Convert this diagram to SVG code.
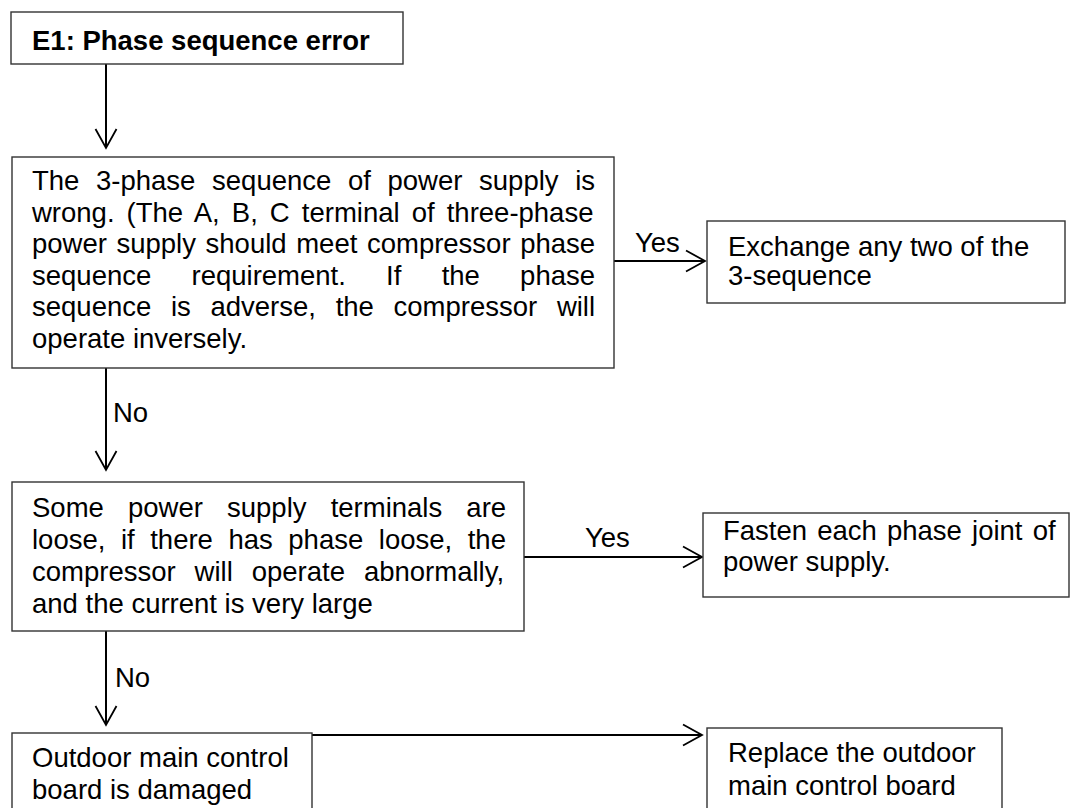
<svg xmlns="http://www.w3.org/2000/svg" width="1072" height="808" viewBox="0 0 1072 808">
<style>
.box{fill:#fff;stroke:#333;stroke-width:1.4}
.t{font-family:"Liberation Sans",Arial,sans-serif;font-size:27.5px;fill:#000}
.b{font-weight:bold}
.c{fill:none;stroke:#000;stroke-width:2}
</style>
<defs>
<marker id="arr" markerUnits="userSpaceOnUse" markerWidth="26" markerHeight="26" refX="20" refY="12" orient="auto" overflow="visible">
<path d="M1,1.5 L20,12 L1,22.5" fill="none" stroke="#000" stroke-width="1.8"/>
</marker>
</defs>
<rect width="1072" height="808" fill="#fff"/>
<g id="connectors">
<line class="c" x1="106" y1="64" x2="106" y2="148" marker-end="url(#arr)"/>
<line class="c" x1="614" y1="261" x2="705" y2="261" marker-end="url(#arr)"/>
<line class="c" x1="106" y1="368" x2="106" y2="470" marker-end="url(#arr)"/>
<line class="c" x1="524" y1="557" x2="702" y2="557" marker-end="url(#arr)"/>
<line class="c" x1="106" y1="631" x2="106" y2="725" marker-end="url(#arr)"/>
<line class="c" x1="312" y1="735" x2="702" y2="735" marker-end="url(#arr)"/>
<text class="t" x="635" y="252">Yes</text>
<text class="t" x="113" y="422">No</text>
<text class="t" x="585" y="547">Yes</text>
<text class="t" x="115" y="687">No</text>
</g>
<g id="n1">
<rect class="box" x="11" y="12" width="392" height="52"/>
<text class="t b" x="32" y="50">E1: Phase sequence error</text>
</g>
<g id="n2">
<rect class="box" x="12" y="157" width="602" height="211"/>
<text class="t" x="32" y="190" word-spacing="9.0">The 3-phase sequence of power supply is</text>
<text class="t" x="32" y="221.6" word-spacing="4.44">wrong. (The A, B, C terminal of three-phase</text>
<text class="t" x="32" y="253.2" word-spacing="1.95">power supply should meet compressor phase</text>
<text class="t" x="32" y="284.8" word-spacing="32.6">sequence requirement. If the phase</text>
<text class="t" x="32" y="316.4" word-spacing="12.04">sequence is adverse, the compressor will</text>
<text class="t" x="32" y="348">operate inversely.</text>
</g>
<g id="n3">
<rect class="box" x="707" y="221" width="358" height="82"/>
<text class="t" x="728" y="256">Exchange any two of the</text>
<text class="t" x="728" y="285">3-sequence</text>
</g>
<g id="n4">
<rect class="box" x="12" y="482" width="512" height="149"/>
<text class="t" x="32" y="517" word-spacing="16.5">Some power supply terminals are</text>
<text class="t" x="32" y="549" word-spacing="7.9">loose, if there has phase loose, the</text>
<text class="t" x="32" y="581" word-spacing="11.3">compressor will operate abnormally,</text>
<text class="t" x="32" y="613">and the current is very large</text>
</g>
<g id="n5">
<rect class="box" x="703" y="513" width="366" height="84"/>
<text class="t" x="723" y="540" word-spacing="2.5">Fasten each phase joint of</text>
<text class="t" x="723" y="571">power supply.</text>
</g>
<g id="n6">
<rect class="box" x="12" y="733" width="300" height="90"/>
<text class="t" x="32" y="767">Outdoor main control</text>
<text class="t" x="32" y="799">board is damaged</text>
</g>
<g id="n7">
<rect class="box" x="707" y="728" width="295" height="95"/>
<text class="t" x="728" y="762">Replace the outdoor</text>
<text class="t" x="728" y="795">main control board</text>
</g>
</svg>
